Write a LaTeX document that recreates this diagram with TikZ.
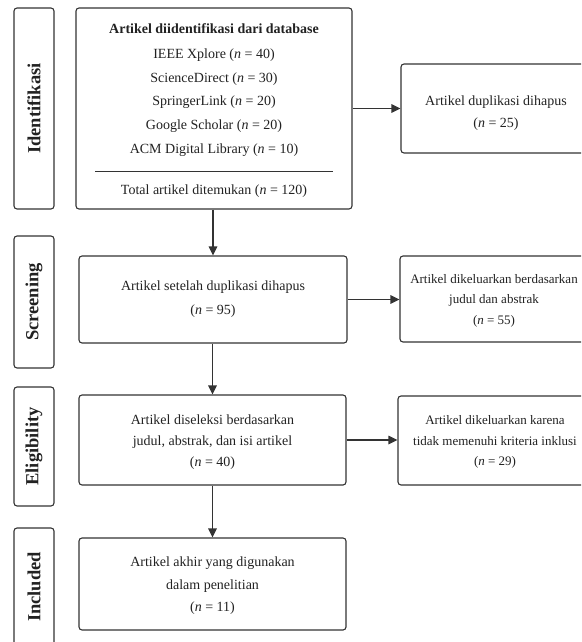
\documentclass[tikz,border=0pt]{standalone}
\usepackage{fontspec}
\setmainfont{Liberation Serif}
\usetikzlibrary{arrows.meta}
\definecolor{linec}{HTML}{333333}
\definecolor{textc}{HTML}{222222}
\begin{document}
\begin{tikzpicture}[x=1pt,y=-1pt,
  box/.style={draw=linec, line width=1.1pt, rounded corners=3pt, inner sep=0pt, fill=white},
  labtext/.style={rotate=90, font=\fontsize{18.5}{20}\selectfont\bfseries, text=textc, inner sep=0pt},
  txt/.style={font=\fontsize{14}{22}\selectfont, text=textc, align=center, inner sep=0pt},
  stxt/.style={font=\fontsize{13}{20.5}\selectfont, text=textc, align=center, inner sep=0pt},
  arr/.style={draw=linec, line width=1.1pt, -{Triangle[length=9pt,width=8.5pt]}}
]
\useasboundingbox (0,0) rectangle (581,642);
\clip (0,0) rectangle (581,642);

% stage labels
\node[box, minimum width=40pt, minimum height=201pt] (L1) at (34,108.5) {};
\node[labtext] (L1t) at (L1.center) {Identifikasi};
\node[box, minimum width=40pt, minimum height=132pt] (L2) at (34,302) {};
\node[labtext] (L2t) at (L2.center) {Screening};
\node[box, minimum width=40pt, minimum height=119pt] (L3) at (34,446.5) {};
\node[labtext] (L3t) at (L3.center) {Eligibility};
\node[box, minimum width=40pt, minimum height=132pt] (L4) at (34,594) {};
\node[labtext] (L4t) at (34,587) {Included};

% identification box
\node[box, minimum width=276pt, minimum height=201pt] (ident) at (214,108.5) {};
\node[txt, font=\fontsize{14}{22}\selectfont\bfseries] (t0) at (214,29) {Artikel diidentifikasi dari database};
\node[txt] (t1) at (214,55) {IEEE Xplore (\textit{n} = 40)};
\node[txt] (t2) at (214,79) {ScienceDirect (\textit{n} = 30)};
\node[txt] (t3) at (214,102) {SpringerLink (\textit{n} = 20)};
\node[txt] (t4) at (214,126) {Google Scholar (\textit{n} = 20)};
\node[txt] (t5) at (214,150) {ACM Digital Library (\textit{n} = 10)};
\coordinate (sepL) at (95,171);
\coordinate (sepR) at (333,171);
\draw[draw=linec, line width=0.9pt] (sepL) -- (sepR);
\node[txt] (t6) at (214,191) {Total artikel ditemukan (\textit{n} = 120)};

% duplicates removed
\node[box, minimum width=191pt, minimum height=89pt] (dup) at (496.5,108.5) {};
\node[txt, font=\fontsize{14}{22}\selectfont] (dupt) at (496,113) {Artikel duplikasi dihapus\\(\textit{n} = 25)};

% screening
\node[box, minimum width=268pt, minimum height=87pt] (screen) at (213,299.5) {};
\node[txt, font=\fontsize{14}{24}\selectfont] (screent) at (213,299.5) {Artikel setelah duplikasi dihapus\\(\textit{n} = 95)};
\node[box, minimum width=192pt, minimum height=86pt] (excl1) at (496,299) {};
\node[stxt] (excl1t) at (494,300.5) {Artikel dikeluarkan berdasarkan\\judul dan abstrak\\(\textit{n} = 55)};

% eligibility
\node[box, minimum width=267pt, minimum height=90pt] (elig) at (212.5,440) {};
\node[txt, font=\fontsize{14}{21}\selectfont] (eligt) at (212.5,442) {Artikel diseleksi berdasarkan\\judul, abstrak, dan isi artikel\\(\textit{n} = 40)};
\node[box, minimum width=194pt, minimum height=89pt] (excl2) at (495,440.5) {};
\node[stxt] (excl2t) at (495,442) {Artikel dikeluarkan karena\\tidak memenuhi kriteria inklusi\\(\textit{n} = 29)};

% included
\node[box, minimum width=267pt, minimum height=92pt] (incl) at (212.5,584) {};
\node[txt, font=\fontsize{14}{22.5}\selectfont] (inclt) at (212.5,586) {Artikel akhir yang digunakan\\dalam penelitian\\(\textit{n} = 11)};

% connectors
\draw[arr] (ident.east) -- (dup.west);
\draw[arr] (screen.north |- ident.south) -- (screen.north);
\draw[arr] (screen.east) -- (screen.east -| excl1.west);
\draw[arr] (elig.north |- screen.south) -- (elig.north);
\draw[arr] (elig.east) -- (elig.east -| excl2.west);
\draw[arr] (incl.north |- elig.south) -- (incl.north);
\end{tikzpicture}
\end{document}
